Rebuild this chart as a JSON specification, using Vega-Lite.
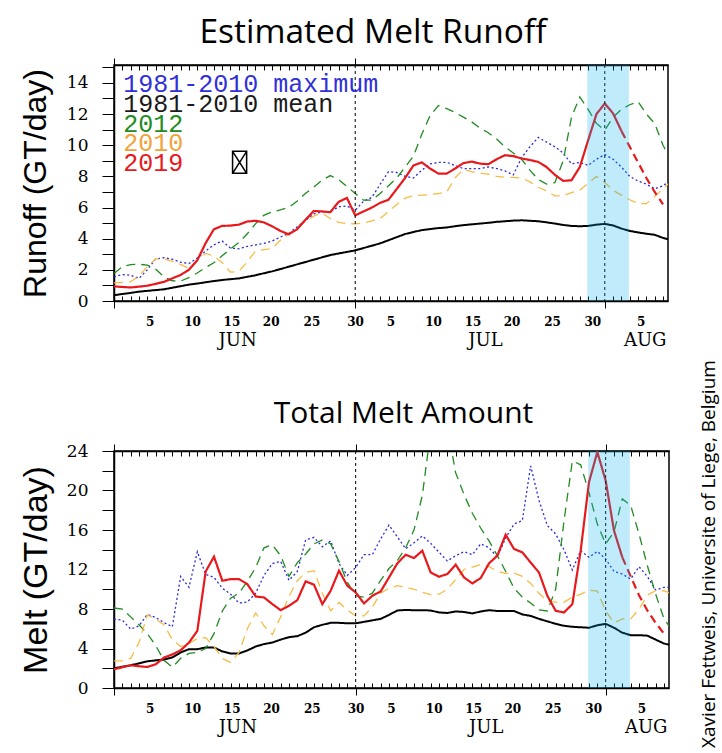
{
  "$schema": "https://vega.github.io/schema/vega-lite/v6.json",
  "background": "white",
  "padding": {"left": 18, "top": 15, "right": 5, "bottom": 5},
  "config": {"view": {"stroke": "black", "strokeWidth": 1.5}},
  "spacing": 48,
  "title": {"text": "Xavier Fettweis, Universite of Liege, Belgium", "orient": "right", "anchor": "middle", "angle": 270, "baseline": "middle", "offset": 20, "dx": -178, "font": "Open Sans", "fontSize": 19, "fontWeight": "normal", "color": "black"},
  "resolve": {"scale": {"color": "independent", "strokeDash": "independent", "strokeWidth": "independent"}},
  "datasets": {
    "runoff": [
      {"d":1,"max":1.55,"mean":0.37,"y2012":1.76,"y2010":1.16,"y2019":0.94},
      {"d":2,"max":1.7,"mean":0.45,"y2012":2.2,"y2010":1.2,"y2019":0.9},
      {"d":3,"max":1.65,"mean":0.52,"y2012":2.33,"y2010":1.24,"y2019":0.87},
      {"d":4,"max":1.45,"mean":0.6,"y2012":2.36,"y2010":1.6,"y2019":0.92},
      {"d":5,"max":2.0,"mean":0.65,"y2012":2.3,"y2010":2.2,"y2019":0.98},
      {"d":6,"max":2.7,"mean":0.7,"y2012":2.05,"y2010":2.7,"y2019":1.1},
      {"d":7,"max":2.78,"mean":0.75,"y2012":1.55,"y2010":2.7,"y2019":1.23},
      {"d":8,"max":2.68,"mean":0.85,"y2012":1.3,"y2010":2.55,"y2019":1.45},
      {"d":9,"max":2.5,"mean":0.95,"y2012":1.28,"y2010":2.35,"y2019":1.67},
      {"d":10,"max":2.4,"mean":1.05,"y2012":1.5,"y2010":2.1,"y2019":2.0},
      {"d":11,"max":2.75,"mean":1.12,"y2012":1.8,"y2010":2.6,"y2019":2.6},
      {"d":12,"max":3.2,"mean":1.2,"y2012":2.15,"y2010":3.05,"y2019":3.7},
      {"d":13,"max":3.6,"mean":1.28,"y2012":2.45,"y2010":2.9,"y2019":4.6},
      {"d":14,"max":3.85,"mean":1.35,"y2012":2.9,"y2010":2.45,"y2019":4.82},
      {"d":15,"max":3.4,"mean":1.4,"y2012":3.35,"y2010":1.85,"y2019":4.84},
      {"d":16,"max":3.35,"mean":1.45,"y2012":3.75,"y2010":1.9,"y2019":4.9},
      {"d":17,"max":3.5,"mean":1.55,"y2012":4.3,"y2010":2.5,"y2019":5.1},
      {"d":18,"max":3.6,"mean":1.65,"y2012":4.95,"y2010":3.2,"y2019":5.15},
      {"d":19,"max":3.7,"mean":1.78,"y2012":5.5,"y2010":3.3,"y2019":5.05},
      {"d":20,"max":3.85,"mean":1.9,"y2012":5.72,"y2010":3.37,"y2019":4.8},
      {"d":21,"max":4.1,"mean":2.05,"y2012":5.85,"y2010":3.9,"y2019":4.5},
      {"d":22,"max":4.35,"mean":2.2,"y2012":6.0,"y2010":4.3,"y2019":4.28},
      {"d":23,"max":4.75,"mean":2.35,"y2012":6.4,"y2010":4.7,"y2019":4.6},
      {"d":24,"max":5.15,"mean":2.5,"y2012":6.9,"y2010":5.1,"y2019":5.2},
      {"d":25,"max":5.6,"mean":2.65,"y2012":7.3,"y2010":5.45,"y2019":5.78},
      {"d":26,"max":5.72,"mean":2.8,"y2012":7.75,"y2010":5.65,"y2019":5.75},
      {"d":27,"max":5.72,"mean":2.95,"y2012":8.05,"y2010":5.3,"y2019":5.7},
      {"d":28,"max":6.05,"mean":3.05,"y2012":7.8,"y2010":5.05,"y2019":6.36},
      {"d":29,"max":6.1,"mean":3.15,"y2012":7.35,"y2010":4.97,"y2019":6.62},
      {"d":30,"max":5.83,"mean":3.25,"y2012":6.9,"y2010":4.95,"y2019":5.5},
      {"d":31,"max":6.4,"mean":3.4,"y2012":6.47,"y2010":5.0,"y2019":5.75},
      {"d":32,"max":6.65,"mean":3.55,"y2012":6.47,"y2010":5.15,"y2019":6.0},
      {"d":33,"max":7.5,"mean":3.7,"y2012":6.9,"y2010":5.3,"y2019":6.3},
      {"d":34,"max":8.3,"mean":3.9,"y2012":7.4,"y2010":5.75,"y2019":6.5},
      {"d":35,"max":8.25,"mean":4.1,"y2012":7.9,"y2010":6.2,"y2019":7.2},
      {"d":36,"max":8.0,"mean":4.3,"y2012":8.6,"y2010":6.6,"y2019":7.9},
      {"d":37,"max":7.9,"mean":4.43,"y2012":9.3,"y2010":6.75,"y2019":8.7},
      {"d":38,"max":8.4,"mean":4.55,"y2012":10.7,"y2010":6.8,"y2019":8.9},
      {"d":39,"max":8.8,"mean":4.62,"y2012":11.9,"y2010":6.83,"y2019":8.5},
      {"d":40,"max":8.9,"mean":4.68,"y2012":12.55,"y2010":6.9,"y2019":8.18},
      {"d":41,"max":8.9,"mean":4.72,"y2012":12.35,"y2010":7.0,"y2019":8.18},
      {"d":42,"max":8.7,"mean":4.8,"y2012":12.1,"y2010":7.9,"y2019":8.5},
      {"d":43,"max":8.5,"mean":4.87,"y2012":11.8,"y2010":8.45,"y2019":8.85},
      {"d":44,"max":8.5,"mean":4.92,"y2012":11.5,"y2010":8.3,"y2019":8.95},
      {"d":45,"max":8.5,"mean":4.97,"y2012":11.1,"y2010":8.2,"y2019":8.82},
      {"d":46,"max":8.6,"mean":5.02,"y2012":10.8,"y2010":8.15,"y2019":8.78},
      {"d":47,"max":8.5,"mean":5.08,"y2012":10.4,"y2010":8.0,"y2019":9.1},
      {"d":48,"max":8.35,"mean":5.12,"y2012":9.9,"y2010":7.95,"y2019":9.36},
      {"d":49,"max":8.1,"mean":5.16,"y2012":9.5,"y2010":7.93,"y2019":9.3},
      {"d":50,"max":9.2,"mean":5.18,"y2012":9.1,"y2010":7.9,"y2019":9.15},
      {"d":51,"max":9.9,"mean":5.15,"y2012":8.4,"y2010":7.65,"y2019":9.05},
      {"d":52,"max":10.5,"mean":5.12,"y2012":7.8,"y2010":7.3,"y2019":8.93},
      {"d":53,"max":10.2,"mean":5.05,"y2012":7.5,"y2010":7.07,"y2019":8.6},
      {"d":54,"max":9.9,"mean":4.97,"y2012":7.6,"y2010":6.75,"y2019":8.1},
      {"d":55,"max":9.5,"mean":4.88,"y2012":9.0,"y2010":6.75,"y2019":7.71},
      {"d":56,"max":8.8,"mean":4.82,"y2012":11.8,"y2010":6.95,"y2019":7.75},
      {"d":57,"max":8.9,"mean":4.8,"y2012":13.1,"y2010":7.11,"y2019":8.6},
      {"d":58,"max":8.7,"mean":4.82,"y2012":12.3,"y2010":7.55,"y2019":10.32},
      {"d":59,"max":9.1,"mean":4.9,"y2012":11.4,"y2010":8.0,"y2019":12.0},
      {"d":60,"max":9.4,"mean":4.95,"y2012":10.96,"y2010":7.6,"y2019":12.68},
      {"d":61,"max":9.1,"mean":4.85,"y2012":11.8,"y2010":7.1,"y2019":12.04},
      {"d":62,"max":8.6,"mean":4.65,"y2012":12.3,"y2010":6.8,"y2019":10.92,"f":10.92},
      {"d":63,"max":8.0,"mean":4.5,"y2012":12.6,"y2010":6.5,"f":9.9},
      {"d":64,"max":7.7,"mean":4.4,"y2012":12.8,"y2010":6.25,"f":8.9},
      {"d":65,"max":7.5,"mean":4.32,"y2012":12.0,"y2010":6.25,"f":7.9},
      {"d":66,"max":7.2,"mean":4.25,"y2012":11.4,"y2010":6.7,"f":7.0},
      {"d":67,"max":7.4,"mean":4.05,"y2012":10.0,"y2010":7.2,"f":6.2},
      {"d":68,"max":7.8,"mean":3.9,"y2012":9.0,"y2010":7.7}
    ],
    "melt": [
      {"d":1,"max":6.97,"mean":2.0,"y2012":8.1,"y2010":2.74,"y2019":1.9},
      {"d":2,"max":6.87,"mean":2.15,"y2012":8.0,"y2010":2.74,"y2019":2.1},
      {"d":3,"max":5.96,"mean":2.3,"y2012":7.2,"y2010":3.0,"y2019":2.3},
      {"d":4,"max":6.29,"mean":2.5,"y2012":6.4,"y2010":4.6,"y2019":2.2},
      {"d":5,"max":7.45,"mean":2.7,"y2012":5.5,"y2010":7.4,"y2019":2.13},
      {"d":6,"max":7.14,"mean":2.8,"y2012":4.3,"y2010":6.97,"y2019":2.4},
      {"d":7,"max":6.63,"mean":2.88,"y2012":2.8,"y2010":6.4,"y2019":3.08},
      {"d":8,"max":6.2,"mean":3.1,"y2012":2.1,"y2010":4.9,"y2019":3.4},
      {"d":9,"max":11.3,"mean":3.6,"y2012":3.0,"y2010":4.2,"y2019":3.82},
      {"d":10,"max":10.2,"mean":3.93,"y2012":3.5,"y2010":4.5,"y2019":4.6},
      {"d":11,"max":13.8,"mean":3.93,"y2012":3.6,"y2010":5.0,"y2019":5.79},
      {"d":12,"max":11.5,"mean":4.1,"y2012":4.0,"y2010":5.1,"y2019":11.8},
      {"d":13,"max":11.2,"mean":4.1,"y2012":5.5,"y2010":4.2,"y2019":13.3},
      {"d":14,"max":10.1,"mean":3.7,"y2012":7.8,"y2010":3.0,"y2019":10.86},
      {"d":15,"max":9.5,"mean":3.5,"y2012":9.1,"y2010":2.6,"y2019":11.03},
      {"d":16,"max":8.6,"mean":3.5,"y2012":9.6,"y2010":3.6,"y2019":11.03},
      {"d":17,"max":8.7,"mean":3.8,"y2012":10.8,"y2010":6.0,"y2019":10.52},
      {"d":18,"max":9.6,"mean":4.2,"y2012":12.2,"y2010":7.6,"y2019":9.27},
      {"d":19,"max":11.4,"mean":4.45,"y2012":14.2,"y2010":6.3,"y2019":9.17},
      {"d":20,"max":12.6,"mean":4.6,"y2012":14.5,"y2010":5.4,"y2019":8.5},
      {"d":21,"max":12.83,"mean":4.9,"y2012":13.4,"y2010":7.2,"y2019":7.88},
      {"d":22,"max":10.9,"mean":5.15,"y2012":11.3,"y2010":9.3,"y2019":8.32},
      {"d":23,"max":11.8,"mean":5.25,"y2012":12.7,"y2010":10.86,"y2019":8.9},
      {"d":24,"max":15.0,"mean":5.6,"y2012":13.57,"y2010":11.71,"y2019":10.8},
      {"d":25,"max":15.26,"mean":6.15,"y2012":14.59,"y2010":11.88,"y2019":10.46},
      {"d":26,"max":14.3,"mean":6.4,"y2012":15.0,"y2010":9.6,"y2019":8.49},
      {"d":27,"max":14.9,"mean":6.6,"y2012":14.6,"y2010":7.82,"y2019":9.85},
      {"d":28,"max":12.6,"mean":6.6,"y2012":12.8,"y2010":8.66,"y2019":11.88},
      {"d":29,"max":11.4,"mean":6.55,"y2012":10.7,"y2010":7.9,"y2019":10.36},
      {"d":30,"max":12.2,"mean":6.55,"y2012":9.34,"y2010":7.31,"y2019":9.68},
      {"d":31,"max":13.5,"mean":6.7,"y2012":9.2,"y2010":7.3,"y2019":8.56},
      {"d":32,"max":13.5,"mean":6.85,"y2012":9.6,"y2010":8.2,"y2019":9.34},
      {"d":33,"max":15.1,"mean":7.0,"y2012":10.9,"y2010":9.6,"y2019":9.78},
      {"d":34,"max":16.5,"mean":7.4,"y2012":12.1,"y2010":10.1,"y2019":11.2},
      {"d":35,"max":15.3,"mean":7.85,"y2012":12.9,"y2010":10.36,"y2019":12.62},
      {"d":36,"max":14.1,"mean":7.9,"y2012":14.2,"y2010":10.2,"y2019":13.5},
      {"d":37,"max":14.7,"mean":7.88,"y2012":16.0,"y2010":10.0,"y2019":13.16},
      {"d":38,"max":15.4,"mean":7.88,"y2012":19.5,"y2010":9.7,"y2019":13.9},
      {"d":39,"max":14.65,"mean":7.85,"y2012":26.0,"y2010":9.45,"y2019":11.7},
      {"d":40,"max":13.75,"mean":7.65,"y2012":27.5,"y2010":9.5,"y2019":11.27},
      {"d":41,"max":12.86,"mean":7.6,"y2012":26.5,"y2010":10.0,"y2019":11.54},
      {"d":42,"max":13.4,"mean":7.75,"y2012":21.8,"y2010":11.0,"y2019":12.49},
      {"d":43,"max":13.8,"mean":7.7,"y2012":19.6,"y2010":12.0,"y2019":11.2},
      {"d":44,"max":13.5,"mean":7.55,"y2012":17.7,"y2010":12.25,"y2019":10.59},
      {"d":45,"max":14.6,"mean":7.75,"y2012":16.2,"y2010":12.5,"y2019":11.13},
      {"d":46,"max":14.2,"mean":7.88,"y2012":14.9,"y2010":12.3,"y2019":12.62},
      {"d":47,"max":13.25,"mean":7.8,"y2012":13.4,"y2010":11.8,"y2019":13.4},
      {"d":48,"max":15.2,"mean":7.8,"y2012":11.8,"y2010":11.6,"y2019":15.53},
      {"d":49,"max":16.6,"mean":7.8,"y2012":10.1,"y2010":11.65,"y2019":14.08},
      {"d":50,"max":16.95,"mean":7.45,"y2012":9.2,"y2010":11.3,"y2019":13.74},
      {"d":51,"max":22.5,"mean":7.3,"y2012":8.6,"y2010":10.6,"y2019":12.7},
      {"d":52,"max":19.0,"mean":7.0,"y2012":7.9,"y2010":9.6,"y2019":11.7},
      {"d":53,"max":16.45,"mean":6.75,"y2012":7.8,"y2010":8.8,"y2019":9.34},
      {"d":54,"max":15.6,"mean":6.5,"y2012":10.0,"y2010":8.7,"y2019":7.82},
      {"d":55,"max":14.0,"mean":6.3,"y2012":16.9,"y2010":8.7,"y2019":7.65},
      {"d":56,"max":11.95,"mean":6.2,"y2012":23.0,"y2010":9.2,"y2019":8.49},
      {"d":57,"max":13.9,"mean":6.15,"y2012":22.6,"y2010":9.5,"y2019":13.9},
      {"d":58,"max":13.23,"mean":6.1,"y2012":19.8,"y2010":9.9,"y2019":20.85},
      {"d":59,"max":13.84,"mean":6.35,"y2012":16.6,"y2010":9.8,"y2019":23.9},
      {"d":60,"max":13.06,"mean":6.5,"y2012":14.6,"y2010":7.8,"y2019":21.0},
      {"d":61,"max":11.81,"mean":6.1,"y2012":15.8,"y2010":6.6,"y2019":15.94},
      {"d":62,"max":11.54,"mean":5.6,"y2012":19.15,"y2010":7.0,"y2019":13.23,"f":13.23},
      {"d":63,"max":11.03,"mean":5.35,"y2012":18.5,"y2010":7.0,"f":11.3},
      {"d":64,"max":12.28,"mean":5.35,"y2012":15.6,"y2010":8.0,"f":9.4},
      {"d":65,"max":11.3,"mean":5.3,"y2012":12.4,"y2010":9.4,"f":7.85},
      {"d":66,"max":9.92,"mean":4.9,"y2012":9.5,"y2010":9.85,"f":6.6},
      {"d":67,"max":10.19,"mean":4.5,"y2012":7.0,"y2010":9.85,"f":5.5},
      {"d":68,"max":10.19,"mean":4.3,"y2012":5.8,"y2010":9.5}
    ],
    "key": [
      {"series": "max", "label": "1981-2010 maximum"},
      {"series": "mean", "label": "1981-2010 mean"},
      {"series": "y2012", "label": "2012"},
      {"series": "y2010", "label": "2010"},
      {"series": "y2019", "label": "2019"}
    ]
  },
  "vconcat": [
    {
      "width": 554,
      "height": 236,
      "title": {"text": "Estimated Melt Runoff", "font": "Open Sans", "fontSize": 33.5, "fontWeight": "normal", "color": "black", "anchor": "middle", "dx": -18, "offset": 7},
      "resolve": {"axis": {"x": "independent", "y": "independent"}, "scale": {"y": "independent"}},
      "layer": [
        {
          "data": {"name": "runoff"},
          "transform": [{"fold": ["max", "mean", "y2012", "y2010", "y2019"], "as": ["series", "v"]}],
          "mark": {"type": "line", "clip": true},
          "encoding": {
            "x": {"field": "d", "type": "quantitative", "scale": {"domain": [1, 67.6], "nice": false, "zero": false},
              "axis": {"orient": "bottom", "values": [1,2,3,4,5,6,7,8,9,10,11,12,13,14,15,16,17,18,19,20,21,22,23,24,25,26,27,28,29,30,31,32,33,34,35,36,37,38,39,40,41,42,43,44,45,46,47,48,49,50,51,52,53,54,55,56,57,58,59,60,61,62,63,64,65,66,67],
                "labels": false, "tickSize": {"condition": {"test": "datum.value === 1 || datum.value === 30 || datum.value === 60", "value": 7}, "value": -5},
                "tickColor": "black", "tickWidth": 1, "domainColor": "black", "domainWidth": 1.5, "grid": false, "title": null}},
            "y": {"field": "v", "type": "quantitative", "scale": {"domain": [0, 15.15], "nice": false},
              "axis": {"orient": "left", "values": [0,1,2,3,4,5,6,7,8,9,10,11,12,13,14,15], "labelExpr": "datum.value % 2 === 0 ? datum.label : ''",
                "tickSize": 12, "tickColor": "black", "tickWidth": 1, "domainColor": "black", "domainWidth": 1.5, "grid": false,
                "labelFont": "DejaVu Serif", "labelFontSize": 17, "labelColor": "black", "labelPadding": 14, "labelOverlap": false,
                "title": "Runoff (GT/day)", "titleFont": "Liberation Sans", "titleFontSize": 32, "titleFontWeight": "normal", "titleColor": "black", "titlePadding": 14}},
            "color": {"field": "series", "type": "nominal",
              "scale": {"domain": ["max", "mean", "y2012", "y2010", "y2019"], "range": ["#2b2bd9", "#000000", "#228b22", "#f5bd45", "#e8191c"]},
              "legend": null},
            "strokeDash": {"field": "series", "type": "nominal",
              "scale": {"domain": ["max", "mean", "y2012", "y2010", "y2019"], "range": [[2, 2.5], [1, 0], [9, 6], [9, 6], [1, 0]]}, "legend": null},
            "strokeWidth": {"field": "series", "type": "ordinal",
              "scale": {"type": "ordinal", "domain": ["max", "mean", "y2012", "y2010", "y2019"], "range": [1.3, 2, 1.3, 1.3, 2.2]}, "legend": null}
          }
        },
        {
          "data": {"name": "runoff"},
          "mark": {"type": "line", "color": "#e8191c", "strokeDash": [8, 5], "strokeWidth": 2.2, "clip": true},
          "encoding": {
            "x": {"field": "d", "type": "quantitative", "scale": {"domain": [1, 67.6], "nice": false, "zero": false},
              "axis": {"orient": "top", "values": [1,2,3,4,5,6,7,8,9,10,11,12,13,14,15,16,17,18,19,20,21,22,23,24,25,26,27,28,29,30,31,32,33,34,35,36,37,38,39,40,41,42,43,44,45,46,47,48,49,50,51,52,53,54,55,56,57,58,59,60,61,62,63,64,65,66,67],
                "labels": false, "tickSize": {"condition": {"test": "datum.value === 1 || datum.value === 30 || datum.value === 60", "value": 7}, "value": -5},
                "tickColor": "black", "tickWidth": 1, "domainColor": "black", "domainWidth": 1.5, "grid": false, "title": null}},
            "y": {"field": "f", "type": "quantitative", "scale": {"domain": [0, 15.15], "nice": false}, "axis": null}
          }
        },
        {
          "data": {"values": [{"d": 30}, {"d": 60}]},
          "mark": {"type": "rule", "strokeDash": [3, 3], "color": "black", "strokeWidth": 1},
          "encoding": {
            "x": {"field": "d", "type": "quantitative",
              "axis": {"orient": "bottom", "values": [5.29, 10.38, 15.12, 19.84, 24.73, 29.98, 34.23, 39.36, 44.1, 48.8, 53.66, 58.5, 64.3],
                "ticks": false, "tickSize": 0, "domain": false, "grid": false, "title": null, "labelFlush": false, "labelOverlap": false,
                "labelExpr": "datum.value < 31 ? format(round(datum.value / 5) * 5, 'd') : datum.value < 62 ? format(round((datum.value - 29) / 5) * 5, 'd') : '5'",
                "labelFont": "DejaVu Serif", "labelFontSize": 12, "labelFontWeight": "bold", "labelColor": "black", "labelPadding": 15}}
          }
        },
        {
          "data": {"values": [{}]},
          "mark": {"type": "rect", "color": "#00aeef", "opacity": 0.25},
          "encoding": {
            "x": {"datum": 57.9, "type": "quantitative",
              "axis": {"orient": "bottom", "values": [15.8, 45.6, 64.8], "ticks": false, "tickSize": 0, "domain": false, "grid": false, "title": null,
                "labelFlush": false, "labelOverlap": false,
                "labelExpr": "datum.value < 30 ? 'JUN' : datum.value < 60 ? 'JUL' : 'AUG'",
                "labelFont": "DejaVu Serif", "labelFontSize": 18, "labelColor": "black", "labelPadding": 30}},
            "x2": {"datum": 62.9},
            "y": {"datum": 0, "type": "quantitative", "scale": {"domain": [0, 15.15], "nice": false}, "axis": null},
            "y2": {"datum": 15.15}
          }
        },
        {
          "data": {"values": [{}]},
          "mark": {"type": "point", "shape": "M-0.64,-1H0.64V1H-0.64Z M-0.64,-1L0.64,1 M0.64,-1L-0.64,1", "size": 484, "stroke": "black", "strokeWidth": 1.5, "filled": false, "opacity": 1},
          "encoding": {
            "x": {"datum": 16.1, "type": "quantitative", "axis": null},
            "y": {"datum": 8.9, "type": "quantitative", "scale": {"domain": [0, 15.15], "nice": false}, "axis": null}
          }
        },
        {
          "data": {"name": "key"},
          "mark": {"type": "text", "align": "left", "baseline": "middle", "font": "Liberation Mono", "fontSize": 25},
          "encoding": {
            "x": {"datum": 2.1, "type": "quantitative", "axis": null},
            "y": {"field": "series", "type": "nominal", "scale": {"type": "point", "domain": ["max", "mean", "y2012", "y2010", "y2019"], "range": [19, 98], "padding": 0}, "axis": null},
            "text": {"field": "label"},
            "fill": {"field": "series", "type": "nominal",
              "scale": {"domain": ["max", "mean", "y2012", "y2010", "y2019"], "range": ["#3030d8", "#1a1a1a", "#228b22", "#f2a33a", "#e8191c"]}, "legend": null}
          }
        }
      ]
    },
    {
      "width": 555,
      "height": 237,
      "title": {"text": "Total Melt Amount", "font": "Open Sans", "fontSize": 30, "fontWeight": "normal", "color": "black", "anchor": "middle", "dx": 12, "offset": 13},
      "resolve": {"axis": {"x": "independent", "y": "independent"}},
      "layer": [
        {
          "data": {"name": "melt"},
          "transform": [{"fold": ["max", "mean", "y2012", "y2010", "y2019"], "as": ["series", "v"]}],
          "mark": {"type": "line", "clip": true},
          "encoding": {
            "x": {"field": "d", "type": "quantitative", "scale": {"domain": [1, 67.6], "nice": false, "zero": false},
              "axis": {"orient": "bottom", "values": [1,2,3,4,5,6,7,8,9,10,11,12,13,14,15,16,17,18,19,20,21,22,23,24,25,26,27,28,29,30,31,32,33,34,35,36,37,38,39,40,41,42,43,44,45,46,47,48,49,50,51,52,53,54,55,56,57,58,59,60,61,62,63,64,65,66,67],
                "labels": false, "tickSize": {"condition": {"test": "datum.value === 1 || datum.value === 30 || datum.value === 60", "value": 7}, "value": -5},
                "tickColor": "black", "tickWidth": 1, "domainColor": "black", "domainWidth": 1.5, "grid": false, "title": null}},
            "y": {"field": "v", "type": "quantitative", "scale": {"domain": [0, 24], "nice": false},
              "axis": {"orient": "left", "values": [0,2,4,6,8,10,12,14,16,18,20,22,24], "labelExpr": "datum.value % 4 === 0 ? datum.label : ''",
                "tickSize": 12, "tickColor": "black", "tickWidth": 1, "domainColor": "black", "domainWidth": 1.5, "grid": false,
                "labelFont": "DejaVu Serif", "labelFontSize": 17, "labelColor": "black", "labelPadding": 14, "labelOverlap": false,
                "title": "Melt (GT/day)", "titleFont": "Liberation Sans", "titleFontSize": 34, "titleFontWeight": "normal", "titleColor": "black", "titlePadding": 13}},
            "color": {"field": "series", "type": "nominal",
              "scale": {"domain": ["max", "mean", "y2012", "y2010", "y2019"], "range": ["#2b2bd9", "#000000", "#228b22", "#f5bd45", "#e8191c"]},
              "legend": null},
            "strokeDash": {"field": "series", "type": "nominal",
              "scale": {"domain": ["max", "mean", "y2012", "y2010", "y2019"], "range": [[2, 2.5], [1, 0], [9, 6], [9, 6], [1, 0]]}, "legend": null},
            "strokeWidth": {"field": "series", "type": "ordinal",
              "scale": {"type": "ordinal", "domain": ["max", "mean", "y2012", "y2010", "y2019"], "range": [1.3, 2, 1.3, 1.3, 2.2]}, "legend": null}
          }
        },
        {
          "data": {"name": "melt"},
          "mark": {"type": "line", "color": "#e8191c", "strokeDash": [8, 5], "strokeWidth": 2.2, "clip": true},
          "encoding": {
            "x": {"field": "d", "type": "quantitative", "scale": {"domain": [1, 67.6], "nice": false, "zero": false},
              "axis": {"orient": "top", "values": [1,2,3,4,5,6,7,8,9,10,11,12,13,14,15,16,17,18,19,20,21,22,23,24,25,26,27,28,29,30,31,32,33,34,35,36,37,38,39,40,41,42,43,44,45,46,47,48,49,50,51,52,53,54,55,56,57,58,59,60,61,62,63,64,65,66,67],
                "labels": false, "tickSize": {"condition": {"test": "datum.value === 1 || datum.value === 30 || datum.value === 60", "value": 7}, "value": -5},
                "tickColor": "black", "tickWidth": 1, "domainColor": "black", "domainWidth": 1.5, "grid": false, "title": null}},
            "y": {"field": "f", "type": "quantitative", "axis": null}
          }
        },
        {
          "data": {"values": [{"d": 30}, {"d": 60}]},
          "mark": {"type": "rule", "strokeDash": [3, 3], "color": "black", "strokeWidth": 1},
          "encoding": {
            "x": {"field": "d", "type": "quantitative",
              "axis": {"orient": "bottom", "values": [5.29, 10.38, 15.12, 19.84, 24.73, 29.98, 34.23, 39.36, 44.1, 48.8, 53.66, 58.5, 64.3],
                "ticks": false, "tickSize": 0, "domain": false, "grid": false, "title": null, "labelFlush": false, "labelOverlap": false,
                "labelExpr": "datum.value < 31 ? format(round(datum.value / 5) * 5, 'd') : datum.value < 62 ? format(round((datum.value - 29) / 5) * 5, 'd') : '5'",
                "labelFont": "DejaVu Serif", "labelFontSize": 12, "labelFontWeight": "bold", "labelColor": "black", "labelPadding": 15}}
          }
        },
        {
          "data": {"values": [{}]},
          "mark": {"type": "rect", "color": "#00aeef", "opacity": 0.25},
          "encoding": {
            "x": {"datum": 57.9, "type": "quantitative",
              "axis": {"orient": "bottom", "values": [15.8, 45.6, 64.8], "ticks": false, "tickSize": 0, "domain": false, "grid": false, "title": null,
                "labelFlush": false, "labelOverlap": false,
                "labelExpr": "datum.value < 30 ? 'JUN' : datum.value < 60 ? 'JUL' : 'AUG'",
                "labelFont": "DejaVu Serif", "labelFontSize": 18, "labelColor": "black", "labelPadding": 30}},
            "x2": {"datum": 62.9},
            "y": {"datum": 0, "type": "quantitative", "axis": null},
            "y2": {"datum": 24}
          }
        }
      ]
    }
  ]
}
